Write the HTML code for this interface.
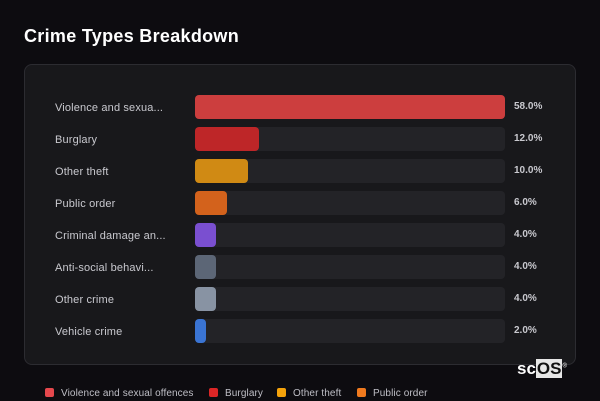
<!DOCTYPE html>
<html><head><meta charset="utf-8"><style>
body{margin:0;width:600px;height:400px;background:#0d0c10;font-family:"Liberation Sans",sans-serif;overflow:hidden;position:relative}
h1{position:absolute;left:24px;top:26px;margin:0;font-size:18px;font-weight:bold;color:#fff;letter-spacing:0.3px}
.panel{position:absolute;left:24px;top:64px;width:552px;height:301px;background:#18181b;border:1px solid #2c2c31;border-radius:8px;box-sizing:border-box}
.lab{position:absolute;left:55px;font-size:11px;color:#c9c9cf;line-height:24px;white-space:nowrap;letter-spacing:0.15px}
.track{position:absolute;left:195px;width:310px;height:24px;background:#232327;border-radius:4px}
.bar{position:absolute;left:195px;height:24px;border-radius:4px}
.val{position:absolute;left:514px;font-size:10px;font-weight:bold;color:#c9c9cf;line-height:24px}
.leg{position:absolute;top:387px;font-size:10px;color:#bfbfc6;line-height:14px;white-space:nowrap;letter-spacing:0.1px}
.leg i{display:inline-block;width:9px;height:9px;border-radius:2px;margin-right:7px;vertical-align:-1px}
.logo{position:absolute;left:517px;top:359px;font-size:17px;font-weight:bold;color:#fff}
.logo span{background:#e6e6e6;color:#111;padding:0 1px}
</style></head><body>
<h1>Crime Types Breakdown</h1>
<div class="panel"></div>
<div class="lab" style="top:96px">Violence and sexua...</div><div class="track" style="top:95px"></div><div class="bar" style="top:95px;width:310px;background:#cc3e3e"></div><div class="val" style="top:95px">58.0%</div>
<div class="lab" style="top:128px">Burglary</div><div class="track" style="top:127px"></div><div class="bar" style="top:127px;width:64px;background:#be2628"></div><div class="val" style="top:127px">12.0%</div>
<div class="lab" style="top:160px">Other theft</div><div class="track" style="top:159px"></div><div class="bar" style="top:159px;width:53px;background:#d08a14"></div><div class="val" style="top:159px">10.0%</div>
<div class="lab" style="top:192px">Public order</div><div class="track" style="top:191px"></div><div class="bar" style="top:191px;width:32px;background:#d3621c"></div><div class="val" style="top:191px">6.0%</div>
<div class="lab" style="top:224px">Criminal damage an...</div><div class="track" style="top:223px"></div><div class="bar" style="top:223px;width:21px;background:#7a4fd0"></div><div class="val" style="top:223px">4.0%</div>
<div class="lab" style="top:256px">Anti-social behavi...</div><div class="track" style="top:255px"></div><div class="bar" style="top:255px;width:21px;background:#5c6676"></div><div class="val" style="top:255px">4.0%</div>
<div class="lab" style="top:288px">Other crime</div><div class="track" style="top:287px"></div><div class="bar" style="top:287px;width:21px;background:#8893a3"></div><div class="val" style="top:287px">4.0%</div>
<div class="lab" style="top:320px">Vehicle crime</div><div class="track" style="top:319px"></div><div class="bar" style="top:319px;width:11px;background:#3a74d3"></div><div class="val" style="top:319px">2.0%</div>
<div class="logo">sc<span>OS</span><sup style="font-size:6px;font-weight:normal">®</sup></div>
<div class="leg" style="left:45px"><i style="background:#e5484d"></i>Violence and sexual offences</div>
<div class="leg" style="left:209px"><i style="background:#dc2626"></i>Burglary</div>
<div class="leg" style="left:277px"><i style="background:#f5a30b"></i>Other theft</div>
<div class="leg" style="left:357px"><i style="background:#f07a1e"></i>Public order</div>
</body></html>
